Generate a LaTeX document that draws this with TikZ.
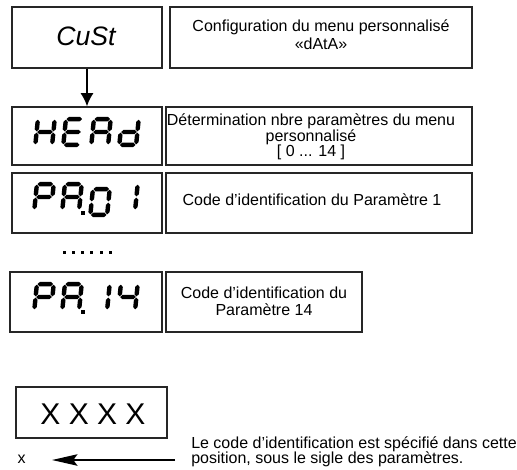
\documentclass[tikz,border=0pt]{standalone}
\usepackage{fontspec}
\setmainfont{Liberation Sans}
\usetikzlibrary{arrows.meta}
\tikzset{
  box/.style={draw=black!85, line width=0.85pt, inner sep=0pt},
  sz/.style 2 args={minimum width=#1*0.75pt, minimum height=#2*0.75pt},
  desc/.style={font=\fontsize{12}{12}\selectfont, align=center, inner sep=0pt},
  conn/.style={line width=1.8pt, -{Latex[length=10pt,width=10pt]}},
  bigarrow/.style={line width=1.7pt, -{Stealth[length=19pt,width=8.5pt,inset=3pt]}},
}
\newcommand\hs[2]{\fill (#1,#2) -- ++(2.2,-2.2) -- ++(11.2,0) -- ++(2.2,2.2) -- ++(-2.2,2.2) -- ++(-11.2,0) -- cycle;}
\newcommand\vs[2]{\fill (#1,#2) -- ++(2.2,2.2) -- ++(0,7.3) -- ++(-2.2,2.2) -- ++(-2.2,-2.2) -- ++(0,-7.3) -- cycle;}
\newcommand\segA{\hs{2.7}{2.1}}
\newcommand\segG{\hs{2.7}{15}}
\newcommand\segD{\hs{2.7}{27.9}}
\newcommand\segF{\vs{2.1}{2.7}}
\newcommand\segE{\vs{2.1}{15.6}}
\newcommand\segB{\vs{18.9}{2.7}}
\newcommand\segC{\vs{18.9}{15.6}}
\newcommand\sevseg[3]{\begin{scope}[shift={(#1,#2)},xslant=0.1]\foreach \s in {#3}{\csname seg\s\endcsname}\end{scope}}
\begin{document}
\begin{tikzpicture}[x=0.75pt,y=-0.75pt]
\useasboundingbox (0,0) rectangle (517,469);
% boxes
\node[box, sz={150}{61}] (cust) at (87,37.5) {};
\node[box, sz={302}{61}] (d1) at (321,37.5) {};
\node[box, sz={150}{58}] (head) at (87,136) {};
\node[box, sz={306}{58}] (d2) at (319,136) {};
\node[box, sz={150}{60}] (pa1) at (87,203) {};
\node[box, sz={306}{60}] (d3) at (319,203) {};
\node[box, sz={152}{60}] (pa14) at (86,302) {};
\node[box, sz={196}{60}] (d4) at (264,302) {};
\node[box, sz={151}{51}] (xbox) at (91.5,412.5) {};
% texts
\node[inner sep=0pt, font=\fontsize{20}{20}\selectfont\itshape] (custt) at (86,36) {CuSt};
\node[desc, font=\fontsize{12}{13.5}\selectfont] (t1) at (321,35) {Configuration du menu personnalisé\\«dAtA»};
\node[desc, font=\fontsize{12}{11.25}\selectfont] (t2) at (311,137) {Détermination nbre paramètres du menu\\personnalisé\\{}[ 0 ... 14 ]};
\node[desc] (t3) at (312,200) {Code d’identification du Paramètre 1};
\node[desc, font=\fontsize{12}{13}\selectfont] (t4) at (264,301) {Code d’identification du\\Paramètre 14};
\node[inner sep=0pt, font=\fontsize{22.5}{22.5}\selectfont] (xt) at (93,414) {X X X X};
\node[inner sep=0pt, font=\fontsize{12}{12}\selectfont] (xm) at (21.5,459) {x};
\node[desc, align=left, anchor=west, font=\fontsize{12}{11.5}\selectfont] (note) at (191,452) {Le code d’identification est spécifié dans cette\\position, sous le sigle des paramètres.};
% connectors
\draw[conn] (cust.south) -- (head.north);
\coordinate (aS) at (175,460);
\coordinate (aE) at (52,460);
\draw[bigarrow] (aS) -- (aE);
% dots
\foreach \i in {0,...,5} \fill (62.5+\i*9.3,250.5) rectangle ++(3,3);
% seven segment HEAd
\sevseg{36}{117}{B,C,E,F,G}
\sevseg{64}{117}{A,D,E,F,G}
\sevseg{92}{117}{A,B,C,E,F,G}
\sevseg{120}{117}{B,C,D,E,G}
% PA.01
\sevseg{35}{182}{A,B,E,F,G}
\sevseg{63}{182}{A,B,C,E,F,G}
\fill (80.5,211) rectangle ++(4,3.5);
\sevseg{91}{187}{A,B,C,D,E,F}
\sevseg{119}{182}{B,C}
% PA.14
\sevseg{35}{282}{A,B,E,F,G}
\sevseg{63}{282}{A,B,C,E,F,G}
\fill (80.5,310) rectangle ++(4,3.5);
\sevseg{91}{282}{B,C}
\sevseg{119}{282}{B,C,F,G}
\end{tikzpicture}
\end{document}
